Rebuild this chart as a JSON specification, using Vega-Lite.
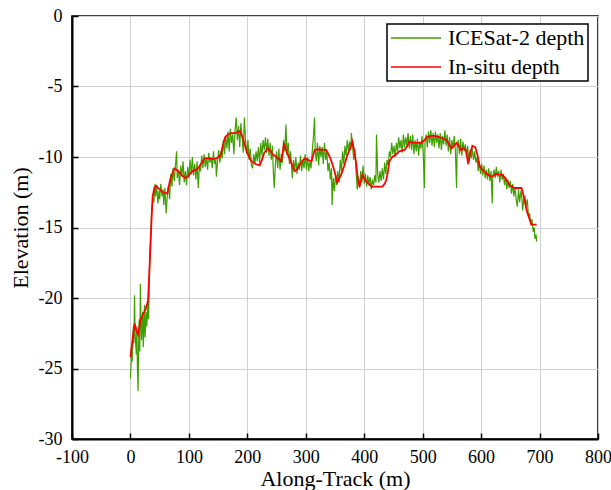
{
 "$schema": "https://vega.github.io/schema/vega-lite/v6.json",
 "width": 526, "height": 423,
 "autosize": {"type": "none"},
 "padding": {"left": 72, "top": 16, "right": 13, "bottom": 51},
 "background": "white",
 "config": {"font": "'Liberation Serif', 'Times New Roman', serif", "view": {"stroke": "black", "strokeWidth": 1.5}},
 "datasets": {
  "green": [
{"x":0,"y":-25.7},{"x":1,"y":-24.8},{"x":2,"y":-23.5},{"x":3,"y":-24.5},{"x":5,"y":-22.0},{"x":6,"y":-23.2},{"x":7,"y":-19.8},{"x":8,"y":-22.5},{"x":10,"y":-24.0},{"x":11,"y":-22.0},{"x":12,"y":-25.0},{"x":13,"y":-26.6},{"x":14,"y":-23.5},{"x":15,"y":-21.5},{"x":16,"y":-23.8},{"x":17,"y":-19.0},{"x":18,"y":-21.5},{"x":19,"y":-23.0},{"x":21,"y":-21.0},{"x":22,"y":-23.5},{"x":24,"y":-20.5},{"x":25,"y":-22.8},{"x":27,"y":-21.0},{"x":28,"y":-22.0},{"x":30,"y":-20.2},{"x":31,"y":-21.5},{"x":32,"y":-19.5},{"x":33,"y":-17.0},{"x":35,"y":-15.5},{"x":36,"y":-14.0},{"x":37,"y":-13.5},{"x":39,"y":-12.8},{"x":40,"y":-13.2},{"x":42,"y":-11.9},{"x":43,"y":-12.8},{"x":45,"y":-12.0},{"x":47,"y":-13.3},{"x":49,"y":-12.4},{"x":50,"y":-13.0},{"x":52,"y":-11.9},{"x":54,"y":-12.8},{"x":56,"y":-12.3},{"x":57,"y":-13.4},{"x":59,"y":-12.2},{"x":61,"y":-14.0},{"x":63,"y":-12.8},{"x":65,"y":-12.0},{"x":67,"y":-13.0},{"x":69,"y":-11.2},{"x":71,"y":-12.1},{"x":73,"y":-10.8},{"x":75,"y":-11.7},{"x":77,"y":-10.6},{"x":79,"y":-9.6},{"x":80,"y":-11.5},{"x":82,"y":-10.9},{"x":84,"y":-12.0},{"x":86,"y":-10.6},{"x":88,"y":-11.4},{"x":90,"y":-10.3},{"x":92,"y":-11.8},{"x":94,"y":-11.0},{"x":96,"y":-12.0},{"x":98,"y":-10.7},{"x":100,"y":-11.5},{"x":102,"y":-10.2},{"x":104,"y":-11.2},{"x":106,"y":-10.0},{"x":108,"y":-11.3},{"x":110,"y":-10.5},{"x":112,"y":-11.6},{"x":114,"y":-10.3},{"x":116,"y":-12.2},{"x":118,"y":-10.6},{"x":120,"y":-11.0},{"x":122,"y":-9.9},{"x":124,"y":-10.8},{"x":126,"y":-9.8},{"x":128,"y":-10.7},{"x":130,"y":-10.0},{"x":132,"y":-10.9},{"x":134,"y":-9.7},{"x":136,"y":-10.4},{"x":138,"y":-10.0},{"x":140,"y":-10.8},{"x":142,"y":-9.6},{"x":144,"y":-10.5},{"x":146,"y":-10.2},{"x":147,"y":-11.4},{"x":149,"y":-10.3},{"x":151,"y":-9.5},{"x":153,"y":-10.4},{"x":155,"y":-9.6},{"x":157,"y":-10.1},{"x":159,"y":-8.8},{"x":161,"y":-9.8},{"x":163,"y":-8.5},{"x":165,"y":-9.4},{"x":167,"y":-8.2},{"x":169,"y":-9.6},{"x":171,"y":-8.0},{"x":173,"y":-9.0},{"x":175,"y":-8.4},{"x":177,"y":-9.8},{"x":179,"y":-8.1},{"x":181,"y":-7.2},{"x":183,"y":-8.8},{"x":185,"y":-7.8},{"x":187,"y":-9.3},{"x":189,"y":-7.6},{"x":191,"y":-8.5},{"x":193,"y":-9.7},{"x":195,"y":-7.2},{"x":197,"y":-8.9},{"x":199,"y":-9.8},{"x":201,"y":-8.8},{"x":203,"y":-10.2},{"x":205,"y":-9.4},{"x":207,"y":-10.6},{"x":209,"y":-10.8},{"x":211,"y":-9.8},{"x":213,"y":-10.5},{"x":215,"y":-9.6},{"x":217,"y":-10.3},{"x":219,"y":-9.3},{"x":221,"y":-10.4},{"x":223,"y":-9.0},{"x":225,"y":-9.9},{"x":227,"y":-8.8},{"x":229,"y":-9.5},{"x":231,"y":-8.6},{"x":233,"y":-9.7},{"x":235,"y":-8.7},{"x":237,"y":-9.9},{"x":239,"y":-9.0},{"x":241,"y":-10.2},{"x":243,"y":-9.2},{"x":244,"y":-10.6},{"x":246,"y":-12.2},{"x":248,"y":-10.5},{"x":250,"y":-9.6},{"x":252,"y":-10.8},{"x":254,"y":-9.4},{"x":256,"y":-10.9},{"x":258,"y":-9.8},{"x":260,"y":-10.4},{"x":262,"y":-8.8},{"x":264,"y":-9.6},{"x":266,"y":-7.7},{"x":268,"y":-9.9},{"x":270,"y":-9.0},{"x":272,"y":-10.5},{"x":274,"y":-9.6},{"x":276,"y":-10.9},{"x":277,"y":-11.5},{"x":279,"y":-10.2},{"x":281,"y":-11.0},{"x":283,"y":-10.0},{"x":285,"y":-11.2},{"x":287,"y":-10.4},{"x":289,"y":-10.9},{"x":291,"y":-9.9},{"x":293,"y":-11.0},{"x":295,"y":-10.2},{"x":297,"y":-10.8},{"x":299,"y":-9.8},{"x":301,"y":-10.9},{"x":303,"y":-10.0},{"x":305,"y":-11.0},{"x":307,"y":-10.3},{"x":309,"y":-10.8},{"x":311,"y":-9.6},{"x":313,"y":-8.6},{"x":315,"y":-7.2},{"x":316,"y":-9.4},{"x":318,"y":-10.3},{"x":320,"y":-9.0},{"x":322,"y":-10.6},{"x":324,"y":-9.2},{"x":326,"y":-10.0},{"x":328,"y":-9.3},{"x":330,"y":-10.5},{"x":332,"y":-9.0},{"x":334,"y":-10.2},{"x":336,"y":-9.6},{"x":338,"y":-11.0},{"x":340,"y":-10.4},{"x":342,"y":-11.6},{"x":344,"y":-10.8},{"x":345,"y":-13.4},{"x":347,"y":-11.5},{"x":349,"y":-12.4},{"x":351,"y":-11.2},{"x":353,"y":-12.0},{"x":355,"y":-11.0},{"x":357,"y":-11.8},{"x":359,"y":-10.2},{"x":361,"y":-11.0},{"x":363,"y":-9.6},{"x":365,"y":-10.5},{"x":367,"y":-9.2},{"x":369,"y":-9.9},{"x":371,"y":-8.8},{"x":373,"y":-9.6},{"x":375,"y":-8.9},{"x":377,"y":-9.5},{"x":378,"y":-8.3},{"x":380,"y":-9.2},{"x":382,"y":-10.2},{"x":384,"y":-9.4},{"x":386,"y":-11.0},{"x":388,"y":-12.3},{"x":390,"y":-11.4},{"x":392,"y":-12.2},{"x":394,"y":-11.0},{"x":396,"y":-11.8},{"x":398,"y":-10.6},{"x":400,"y":-11.9},{"x":402,"y":-11.2},{"x":404,"y":-12.1},{"x":406,"y":-11.3},{"x":408,"y":-11.9},{"x":410,"y":-11.4},{"x":412,"y":-12.3},{"x":414,"y":-11.6},{"x":416,"y":-12.0},{"x":418,"y":-11.3},{"x":420,"y":-11.8},{"x":421,"y":-8.4},{"x":423,"y":-11.2},{"x":425,"y":-11.8},{"x":427,"y":-11.0},{"x":429,"y":-11.7},{"x":431,"y":-10.8},{"x":433,"y":-11.6},{"x":435,"y":-10.4},{"x":437,"y":-11.2},{"x":439,"y":-10.2},{"x":441,"y":-10.6},{"x":443,"y":-9.6},{"x":445,"y":-10.0},{"x":447,"y":-9.0},{"x":449,"y":-9.8},{"x":451,"y":-9.2},{"x":453,"y":-10.0},{"x":455,"y":-9.0},{"x":457,"y":-9.6},{"x":459,"y":-8.6},{"x":461,"y":-9.4},{"x":463,"y":-8.8},{"x":465,"y":-9.7},{"x":467,"y":-8.4},{"x":469,"y":-9.3},{"x":471,"y":-8.6},{"x":473,"y":-9.2},{"x":475,"y":-8.3},{"x":477,"y":-9.4},{"x":479,"y":-8.5},{"x":481,"y":-9.5},{"x":483,"y":-8.4},{"x":485,"y":-9.8},{"x":487,"y":-8.8},{"x":489,"y":-9.6},{"x":491,"y":-8.7},{"x":493,"y":-9.9},{"x":495,"y":-8.9},{"x":497,"y":-9.4},{"x":499,"y":-8.5},{"x":501,"y":-9.8},{"x":503,"y":-12.2},{"x":504,"y":-9.0},{"x":506,"y":-8.4},{"x":508,"y":-9.3},{"x":510,"y":-8.2},{"x":512,"y":-9.0},{"x":514,"y":-8.1},{"x":516,"y":-9.2},{"x":518,"y":-8.3},{"x":520,"y":-9.3},{"x":522,"y":-8.2},{"x":524,"y":-9.0},{"x":526,"y":-8.4},{"x":528,"y":-9.4},{"x":530,"y":-8.3},{"x":532,"y":-9.5},{"x":534,"y":-8.5},{"x":536,"y":-9.1},{"x":538,"y":-8.1},{"x":540,"y":-9.2},{"x":542,"y":-8.4},{"x":544,"y":-9.6},{"x":546,"y":-8.6},{"x":548,"y":-9.8},{"x":550,"y":-8.8},{"x":552,"y":-9.4},{"x":554,"y":-8.5},{"x":556,"y":-9.6},{"x":558,"y":-12.2},{"x":559,"y":-9.3},{"x":561,"y":-8.8},{"x":563,"y":-9.8},{"x":565,"y":-8.7},{"x":567,"y":-9.9},{"x":569,"y":-8.9},{"x":571,"y":-9.6},{"x":573,"y":-9.1},{"x":575,"y":-10.0},{"x":577,"y":-9.2},{"x":579,"y":-10.3},{"x":581,"y":-9.5},{"x":583,"y":-10.1},{"x":585,"y":-9.4},{"x":587,"y":-10.2},{"x":589,"y":-9.6},{"x":591,"y":-10.4},{"x":593,"y":-10.0},{"x":595,"y":-11.0},{"x":597,"y":-10.3},{"x":599,"y":-11.2},{"x":601,"y":-10.5},{"x":603,"y":-11.3},{"x":605,"y":-10.6},{"x":607,"y":-11.5},{"x":609,"y":-10.9},{"x":611,"y":-11.6},{"x":613,"y":-10.8},{"x":615,"y":-11.7},{"x":617,"y":-11.0},{"x":619,"y":-13.3},{"x":620,"y":-11.4},{"x":622,"y":-10.9},{"x":624,"y":-11.5},{"x":626,"y":-10.7},{"x":628,"y":-11.4},{"x":630,"y":-11.0},{"x":632,"y":-11.8},{"x":634,"y":-10.9},{"x":636,"y":-11.6},{"x":638,"y":-11.2},{"x":640,"y":-12.0},{"x":642,"y":-11.4},{"x":644,"y":-12.3},{"x":646,"y":-11.6},{"x":648,"y":-12.2},{"x":650,"y":-11.7},{"x":652,"y":-12.6},{"x":654,"y":-11.9},{"x":656,"y":-12.8},{"x":658,"y":-12.2},{"x":660,"y":-13.0},{"x":662,"y":-13.5},{"x":664,"y":-12.3},{"x":666,"y":-13.2},{"x":668,"y":-12.4},{"x":670,"y":-13.0},{"x":671,"y":-13.8},{"x":673,"y":-13.0},{"x":675,"y":-12.8},{"x":677,"y":-13.5},{"x":679,"y":-13.0},{"x":681,"y":-14.2},{"x":683,"y":-14.0},{"x":685,"y":-14.8},{"x":687,"y":-14.4},{"x":689,"y":-15.3},{"x":691,"y":-15.0},{"x":692,"y":-15.8},{"x":694,"y":-15.5},{"x":695,"y":-16.0}
  ],
  "red": [
{"x":0,"y":-24.2},{"x":2,"y":-23.5},{"x":4,"y":-22.8},{"x":7,"y":-21.8},{"x":10,"y":-22.3},{"x":13,"y":-22.6},{"x":17,"y":-21.6},{"x":21,"y":-21.2},{"x":26,"y":-20.8},{"x":30,"y":-20.2},{"x":32,"y":-18.5},{"x":34,"y":-16.5},{"x":36,"y":-14.5},{"x":38,"y":-12.8},{"x":41,"y":-12.2},{"x":44,"y":-12.05},{"x":50,"y":-12.3},{"x":56,"y":-12.5},{"x":63,"y":-12.6},{"x":68,"y":-11.6},{"x":75,"y":-10.8},{"x":82,"y":-11.0},{"x":88,"y":-11.3},{"x":94,"y":-11.5},{"x":100,"y":-11.3},{"x":106,"y":-11.0},{"x":112,"y":-10.9},{"x":116,"y":-10.8},{"x":122,"y":-10.4},{"x":127,"y":-10.1},{"x":135,"y":-10.1},{"x":142,"y":-10.15},{"x":147,"y":-10.1},{"x":154,"y":-9.9},{"x":158,"y":-9.2},{"x":162,"y":-8.6},{"x":167,"y":-8.4},{"x":172,"y":-8.3},{"x":180,"y":-8.3},{"x":187,"y":-8.15},{"x":192,"y":-8.6},{"x":198,"y":-9.5},{"x":203,"y":-10.0},{"x":207,"y":-10.3},{"x":214,"y":-10.5},{"x":221,"y":-10.6},{"x":225,"y":-10.2},{"x":229,"y":-9.7},{"x":235,"y":-9.4},{"x":240,"y":-9.6},{"x":243,"y":-9.8},{"x":250,"y":-10.0},{"x":258,"y":-10.3},{"x":263,"y":-9.0},{"x":267,"y":-9.6},{"x":272,"y":-10.1},{"x":277,"y":-10.6},{"x":281,"y":-11.0},{"x":285,"y":-10.9},{"x":289,"y":-10.6},{"x":294,"y":-10.3},{"x":298,"y":-10.1},{"x":304,"y":-10.2},{"x":310,"y":-10.3},{"x":315,"y":-9.5},{"x":322,"y":-9.45},{"x":330,"y":-9.5},{"x":335,"y":-9.5},{"x":340,"y":-9.9},{"x":344,"y":-10.3},{"x":349,"y":-11.0},{"x":354,"y":-11.8},{"x":360,"y":-11.3},{"x":366,"y":-10.6},{"x":370,"y":-10.0},{"x":375,"y":-9.5},{"x":380,"y":-8.9},{"x":383,"y":-9.6},{"x":386,"y":-10.4},{"x":389,"y":-11.5},{"x":392,"y":-12.1},{"x":395,"y":-11.6},{"x":397,"y":-11.3},{"x":401,"y":-11.6},{"x":405,"y":-11.8},{"x":410,"y":-12.0},{"x":414,"y":-12.1},{"x":422,"y":-12.1},{"x":431,"y":-12.1},{"x":435,"y":-11.9},{"x":438,"y":-11.6},{"x":441,"y":-10.9},{"x":443,"y":-10.3},{"x":448,"y":-10.0},{"x":455,"y":-9.8},{"x":460,"y":-9.6},{"x":469,"y":-9.5},{"x":474,"y":-9.2},{"x":477,"y":-8.9},{"x":485,"y":-9.0},{"x":492,"y":-9.0},{"x":498,"y":-9.0},{"x":503,"y":-8.8},{"x":507,"y":-8.6},{"x":514,"y":-8.5},{"x":520,"y":-8.5},{"x":530,"y":-8.6},{"x":541,"y":-8.8},{"x":545,"y":-9.1},{"x":549,"y":-9.4},{"x":554,"y":-9.2},{"x":558,"y":-9.0},{"x":563,"y":-9.3},{"x":565,"y":-9.5},{"x":570,"y":-9.4},{"x":574,"y":-9.5},{"x":578,"y":-10.5},{"x":581,"y":-9.8},{"x":585,"y":-9.2},{"x":590,"y":-9.3},{"x":594,"y":-9.9},{"x":597,"y":-10.6},{"x":602,"y":-10.9},{"x":610,"y":-11.2},{"x":618,"y":-11.4},{"x":626,"y":-11.2},{"x":632,"y":-11.25},{"x":637,"y":-11.3},{"x":643,"y":-11.6},{"x":649,"y":-12.0},{"x":657,"y":-12.2},{"x":664,"y":-12.2},{"x":669,"y":-12.2},{"x":673,"y":-12.8},{"x":678,"y":-13.8},{"x":682,"y":-14.3},{"x":686,"y":-14.8},{"x":695,"y":-14.8}
  ]
 },
 "layer": [
  {
   "data": {"name": "green"},
   "mark": {"type": "line", "strokeWidth": 1.2},
   "encoding": {
    "x": {"field": "x", "type": "quantitative", "scale": {"domain": [-100, 800], "nice": false, "zero": false},
     "axis": {"values": [-100,-50,0,50,100,150,200,250,300,350,400,450,500,550,600,650,700,750,800],
      "title": "Along-Track (m)", "titleFont": "'Liberation Serif', 'Times New Roman', serif", "titleFontSize": 22, "titleFontWeight": "normal", "titleColor": "black", "titlePadding": 2,
      "labelFont": "'Liberation Serif', 'Times New Roman', serif", "labelFontSize": 18, "labelColor": "black", "labelExpr": "datum.value % 100 === 0 ? '' + datum.value : ''",
      "labelFlush": false, "labelOverlap": false, "labelPadding": 15,
      "tickSize": {"condition": {"test": "datum.value % 100 === 0", "value": -6}, "value": -3},
      "tickColor": "black", "tickWidth": 1.5, "domainColor": "black", "domainWidth": 2,
      "grid": true, "gridColor": "#d0d0d0", "gridWidth": 1,
      "gridOpacity": {"condition": {"test": "datum.value % 100 === 0", "value": 1}, "value": 0}}},
    "y": {"field": "y", "type": "quantitative", "scale": {"domain": [-30, 0], "nice": false, "zero": false},
     "axis": {"values": [-30,-27.5,-25,-22.5,-20,-17.5,-15,-12.5,-10,-7.5,-5,-2.5,0],
      "title": "Elevation (m)", "titleFont": "'Liberation Serif', 'Times New Roman', serif", "titleFontSize": 22, "titleFontWeight": "normal", "titleColor": "black", "titlePadding": 6,
      "labelFont": "'Liberation Serif', 'Times New Roman', serif", "labelFontSize": 18, "labelColor": "black", "labelExpr": "datum.value % 5 === 0 ? '' + datum.value : ''",
      "labelFlush": false, "labelOverlap": false, "labelPadding": 16,
      "tickSize": {"condition": {"test": "datum.value % 5 === 0", "value": -6}, "value": -3},
      "tickColor": "black", "tickWidth": 1.5, "domainColor": "black", "domainWidth": 2,
      "grid": true, "gridColor": "#d0d0d0", "gridWidth": 1,
      "gridOpacity": {"condition": {"test": "datum.value % 5 === 0", "value": 1}, "value": 0}}},
    "color": {"datum": "ICESat-2 depth", "type": "nominal",
     "scale": {"domain": ["ICESat-2 depth", "In-situ depth"], "range": ["#3e9f00", "#ff0000"]},
     "legend": {"orient": "none", "legendX": 315, "legendY": 8, "title": null,
      "symbolType": "stroke", "symbolSize": 2500, "symbolStrokeWidth": 1.5,
      "clipHeight": 22,
      "labelFont": "'Liberation Serif', 'Times New Roman', serif", "labelFontSize": 22, "labelColor": "black", "labelOffset": 6, "rowPadding": 7, "padding": 3,
      "strokeColor": "black", "fillColor": "white",
      "encode": {"legend": {"update": {"strokeWidth": {"value": 1.5}}}}}}
   }
  },
  {
   "data": {"name": "red"},
   "mark": {"type": "line", "strokeWidth": 1.8},
   "encoding": {
    "x": {"field": "x", "type": "quantitative"},
    "y": {"field": "y", "type": "quantitative"},
    "color": {"datum": "In-situ depth", "type": "nominal"}
   }
  }
 ]
}
